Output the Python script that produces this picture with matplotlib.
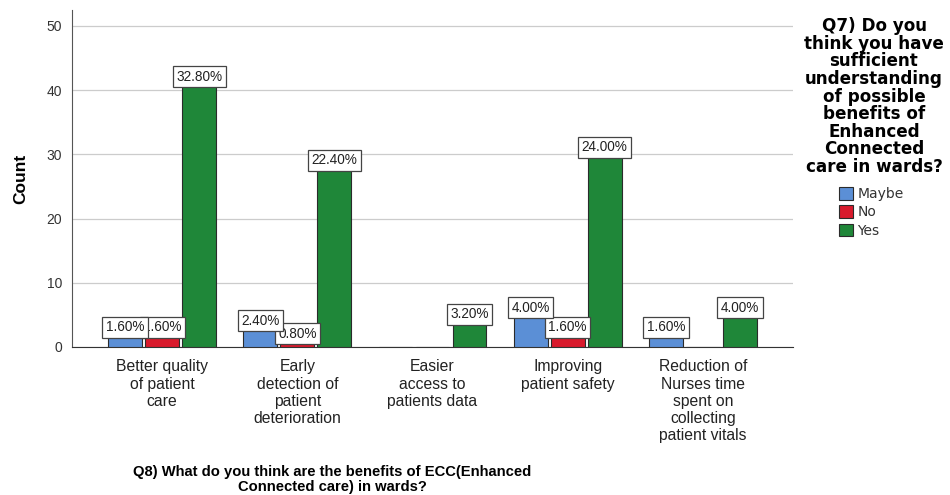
import numpy as np
import matplotlib.pyplot as plt

benefits = ['Better quality\nof patient\ncare',
            'Early\ndetection of\npatient\ndeterioration',
            'Easier\naccess to\npatients data',
            'Improving\npatient safety',
            'Reduction of\nNurses time\nspent on\ncollecting\npatient vitals']
answers = ['Maybe', 'No', 'Yes']
maybe = [2, 3, 0, 5, 2]
no = [2, 1, 0, 2, 0]
yes = [41, 28, 4, 30, 5]
total = 125

colors = ['#5b8fd6', '#d81a2c', '#1f8739']
sans = ['Liberation Sans', 'DejaVu Sans']

fig = plt.figure(figsize=(9.5, 4.95), dpi=100)
ax = fig.add_axes([0.0758, 0.299, 0.759, 0.681])

x = np.arange(len(benefits))
step = 0.274
width = 0.25
for i, (vals, c, name) in enumerate(zip([maybe, no, yes], colors, answers)):
    pos = x + (i - 1) * step
    ax.bar(pos, vals, width, color=c, edgecolor='#2b2b2b', linewidth=0.8,
           label=name, zorder=3)
    for p, v in zip(pos, vals):
        if v == 0:
            continue
        ax.text(p, v, '%.2f%%' % (100.0 * v / total), ha='center', va='bottom',
                fontsize=9.8, family=sans, color='#222222', zorder=6 - i,
                bbox=dict(boxstyle='square,pad=0.25', fc='white',
                          ec='#444444', lw=0.9))

ax.set_xlim(-0.667, 4.667)
ax.set_ylim(0, 52.5)
ax.set_yticks([0, 10, 20, 30, 40, 50])
ax.yaxis.grid(True, color='#cccccc', linewidth=0.9, zorder=0)
ax.set_axisbelow(True)
for s in ['top', 'right']:
    ax.spines[s].set_visible(False)
ax.spines['left'].set_color('#555555')
ax.spines['bottom'].set_color('#333333')
ax.tick_params(axis='y', length=0, labelsize=10, pad=7, labelcolor='#333333')
ax.tick_params(axis='x', length=0, pad=9)
for t in ax.get_yticklabels():
    t.set_family(sans)
ax.set_xticks(x)
ax.set_xticklabels(benefits, fontsize=11.3, family=sans, linespacing=1.18,
                   color='#222222')

ax.set_ylabel('Count', fontsize=12.5, fontweight='bold', family=sans, labelpad=13)
fig.text(0.35, 0.003, 'Q8) What do you think are the benefits of ECC(Enhanced\n'
         'Connected care) in wards?', ha='center', va='bottom', fontsize=10.6,
         fontweight='bold', family=sans, linespacing=1.05)

fig.text(0.920, 0.965, 'Q7) Do you\nthink you have\nsufficient\nunderstanding\n'
         'of possible\nbenefits of\nEnhanced\nConnected\ncare in wards?',
         ha='center', va='top', fontsize=12.1, fontweight='bold',
         family='DejaVu Sans', linespacing=0.97)

handles, labels = ax.get_legend_handles_labels()
leg = fig.legend(handles, labels, loc='upper left', bbox_to_anchor=(0.877, 0.633),
                 frameon=False, handlelength=1.0, handleheight=1.0,
                 handletextpad=0.35, labelspacing=0.3, borderaxespad=0,
                 prop={'family': 'DejaVu Sans', 'size': 10})
for t in leg.get_texts():
    t.set_color('#333333')

fig.savefig('out.png', dpi=100)
